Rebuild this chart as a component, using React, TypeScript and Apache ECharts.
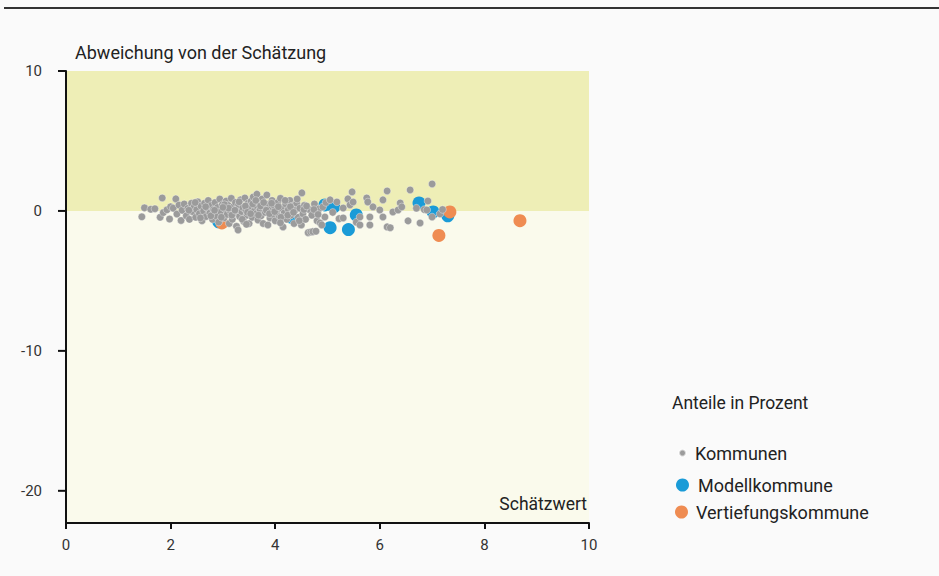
import React, { useEffect, useRef } from "react";
import * as echarts from "echarts";

const xTicks = [0, 2, 4, 6, 8, 10];
const yTicks = [-20, -10, 0, 10];
const yMin = -22.3;
const yMax = 10;
const xMin = 0;
const xMax = 10;

const kommunen: [number, number][] = [
  [1.45, -0.42], [1.5, 0.22], [1.62, 0.12], [1.7, 0.16], [1.8, -0.45], [1.84, 0.93], [1.86, -0.12], [1.93, 0.08], [1.98, -0.58], [2.0, 0.3],
  [2.05, 0.2], [2.1, 0.86], [2.12, -0.22], [2.16, 0.42], [2.2, -0.68], [2.22, 0.05], [2.26, 0.5], [2.3, -0.35], [2.33, 0.18], [2.36, -0.6], [2.4, 0.55], [2.42, -0.05], [2.45, 0.3], [2.48, -0.45], [2.5, 0.1],
  [2.52, 0.65], [2.55, -0.2], [2.58, 0.35], [2.6, -0.7], [2.63, 0.0], [2.65, 0.55], [2.68, -0.4], [2.7, 0.2], [2.72, 0.75], [2.75, -0.15], [2.78, 0.4], [2.8, -0.6], [2.82, 0.1], [2.85, 0.6], [2.87, -0.35], [2.9, 0.25], [2.92, -0.8], [2.94, 0.85], [2.96, -0.05], [2.99, 0.45],
  [3.02, -0.5], [3.04, 0.15], [3.06, 0.7], [3.08, -0.25], [3.1, 0.4], [3.12, -0.9], [3.14, 0.0], [3.16, 0.9], [3.18, -0.6], [3.2, 0.3], [3.22, -0.15], [3.24, 0.6], [3.26, -1.1], [3.28, 0.1], [3.29, -1.36], [3.3, 0.45], [3.32, -0.4], [3.34, 0.8], [3.36, -0.05], [3.38, 0.25], [3.4, -0.75], [3.42, 0.93], [3.44, 0.05], [3.46, -0.3], [3.48, 0.55],
  [3.5, -0.9], [3.52, 0.2], [3.54, 0.7], [3.56, -0.45], [3.58, 1.0], [3.6, 0.0], [3.62, 0.4], [3.64, -0.2], [3.65, 1.2], [3.67, -0.65], [3.69, 0.6], [3.71, 0.1], [3.73, -0.35], [3.75, 0.85], [3.77, -0.9], [3.79, 0.3], [3.81, -0.1], [3.84, 1.14], [3.86, -1.0], [3.88, 0.5], [3.9, -0.5], [3.92, 0.15], [3.94, 0.75], [3.96, -0.25], [3.98, 0.35],
  [4.0, -0.7], [4.03, 0.0], [4.05, 0.6], [4.08, -0.4], [4.1, 0.9], [4.12, 0.2], [4.15, -1.14], [4.17, -0.15], [4.2, 0.5], [4.22, -0.6], [4.25, 0.1], [4.28, 0.75], [4.3, -0.3], [4.33, 0.35], [4.36, -0.9], [4.38, 0.05], [4.41, 0.55], [4.44, -0.45], [4.47, 0.2], [4.5, -1.0], [4.51, 1.29], [4.53, -0.2], [4.56, 0.4], [4.58, -0.6],
  [4.63, -1.55], [4.68, -1.5], [4.72, -1.48], [4.78, -1.45], [4.65, 0.1], [4.7, -0.3], [4.75, 0.5], [4.8, -0.7], [4.84, 0.15], [4.86, -0.86], [4.89, -1.0], [4.91, 0.29], [4.95, -0.43], [4.97, 0.6],
  [5.05, 0.79], [5.1, -0.1], [5.18, 0.64], [5.22, -0.55], [5.3, 0.21], [5.3, -0.5], [5.39, 0.86], [5.43, 0.43], [5.47, 1.36], [5.49, 0.64], [5.55, -0.8], [5.62, -0.43], [5.62, -1.0],
  [5.75, 0.93], [5.77, 0.64], [5.81, -0.43], [5.81, -1.0], [5.87, 0.29], [6.0, 0.07], [6.06, 0.79], [6.06, -0.43], [6.14, 1.43], [6.14, -1.14], [6.2, -1.2], [6.25, -0.07], [6.35, 0.07], [6.39, 0.57], [6.42, 0.29], [6.54, -0.71], [6.58, 1.5],
  [6.7, 0.2], [6.77, -0.86], [6.85, 0.1], [6.9, 0.07], [6.92, 0.71], [7.0, 1.93], [7.0, -0.43], [7.15, -0.21], [7.2, 0.1],
  [2.35, 0.05], [2.47, 0.6], [2.57, -0.5], [2.67, 0.3], [2.77, -0.35], [2.84, 0.05], [2.97, -0.45], [3.03, 0.45], [3.11, 0.2], [3.17, -0.3],
  [3.23, 0.05], [3.31, 0.65], [3.37, -0.6], [3.43, 0.35], [3.47, -0.1], [3.53, -0.2], [3.57, 0.5], [3.63, 0.75], [3.68, -0.3], [3.72, 0.35],
  [3.78, 0.6], [3.83, 0.05], [3.89, -0.2], [3.93, 0.55], [3.99, -0.05], [4.06, 0.3], [4.11, -0.45], [4.19, 0.75], [4.24, -0.3], [4.29, 0.3],
  [4.35, -0.1], [4.42, 0.85], [4.46, -0.7], [4.55, 0.1], [4.6, 0.35], [4.74, 0.1], [4.82, -0.25], [4.1, -0.85], [3.45, -0.95], [3.0, 0.25],
];

const modellkommune: [number, number][] = [
  [2.92, -0.78], [4.3, -0.45], [4.95, 0.43], [5.12, 0.29], [5.05, -1.2], [5.4, -1.33], [5.55, -0.29], [6.75, 0.57], [7.02, -0.07], [7.3, -0.35],
];

const vertiefungskommune: [number, number][] = [
  [2.98, -0.86], [7.34, -0.07], [7.13, -1.75], [8.68, -0.7],
];

const FONT = "Roboto, 'Noto Sans', sans-serif";
const GRAY = "#9b9b9b";
const BLUE = "#1a9bd7";
const ORANGE = "#ef8c52";
const W = 939;
const H = 576;
const GRID = { left: 66, right: 350, top: 71, bottom: 53 };
const TICK_PX = 8;

export default function App() {
  const ref = useRef<HTMLDivElement>(null);
  useEffect(() => {
    if (!ref.current) return;
    const chart = echarts.init(ref.current, null, { renderer: "svg" });
    const plotH = H - GRID.top - GRID.bottom;
    // pixel position of a y value on the linear y axis of the grid
    const yPix = (v: number) => GRID.top + ((yMax - v) / (yMax - yMin)) * plotH;
    const yTickLines = yTicks.map((v) => ({
      type: "line",
      z: 100,
      shape: { x1: GRID.left - TICK_PX, y1: yPix(v), x2: GRID.left, y2: yPix(v) },
      style: { stroke: "#111", lineWidth: 2 },
    }));
    chart.setOption({
      animation: false,
      backgroundColor: "#fafafa",
      textStyle: { fontFamily: FONT },
      grid: { ...GRID, containLabel: false },
      xAxis: {
        type: "value",
        min: xMin,
        max: xMax,
        interval: 2,
        z: 10,
        splitLine: { show: false },
        axisLine: { show: true, onZero: false, lineStyle: { color: "#111", width: 2 } },
        axisTick: { show: true, length: 6, lineStyle: { color: "#111", width: 2 } },
        axisLabel: { color: "#333", fontSize: 15, margin: 14, fontFamily: FONT },
      },
      yAxis: {
        type: "value",
        min: yMin,
        max: yMax,
        z: 10,
        name: "Abweichung von der Schätzung",
        nameLocation: "end",
        nameGap: 10,
        nameTextStyle: { color: "#222", fontSize: 18, align: "left", verticalAlign: "bottom", padding: [0, 0, 0, 9], fontFamily: FONT },
        splitLine: { show: false },
        axisLine: { show: true, onZero: false, lineStyle: { color: "#111", width: 2 } },
        axisTick: { show: false },
        axisLabel: { color: "#333", fontSize: 15, margin: 24, customValues: yTicks, fontFamily: FONT },
      },
      legend: [
        {
          data: ["Kommunen"], orient: "vertical", left: 673, top: 439, icon: "circle",
          itemWidth: 7, itemHeight: 7, selectedMode: false,
          textStyle: { fontSize: 18, color: "#222", padding: [0, 0, 0, 4], fontFamily: FONT },
        },
        {
          data: ["Modellkommune"], orient: "vertical", left: 671, top: 471, icon: "circle",
          itemWidth: 13, itemHeight: 13, selectedMode: false,
          textStyle: { fontSize: 18, color: "#222", padding: [0, 0, 0, 4], fontFamily: FONT },
        },
        {
          data: ["Vertiefungskommune"], orient: "vertical", left: 670, top: 498, icon: "circle",
          itemWidth: 13, itemHeight: 13, selectedMode: false,
          textStyle: { fontSize: 18, color: "#222", padding: [0, 0, 0, 3], fontFamily: FONT },
        },
      ],
      graphic: [
        { type: "line", z: 100, shape: { x1: 4, y1: 8, x2: W, y2: 8 }, style: { stroke: "#333", lineWidth: 2 } },
        { type: "text", z: 100, left: 672, top: 394, style: { text: "Anteile in Prozent", fontSize: 17.5, fill: "#222", fontFamily: FONT } },
        { type: "text", z: 100, right: 352, top: 495, style: { text: "Schätzwert", fontSize: 17.5, fill: "#222", fontFamily: FONT } },
        ...yTickLines,
      ],
      series: [
        {
          name: "Bänder",
          type: "scatter",
          data: [],
          silent: true,
          z: 1,
          markArea: {
            silent: true,
            data: [
              [{ yAxis: 0, itemStyle: { color: "#eeeeb6" } }, { yAxis: yMax }],
              [{ yAxis: yMin, itemStyle: { color: "#fafaec" } }, { yAxis: 0 }],
            ],
          },
        },
        {
          name: "Modellkommune",
          type: "scatter",
          data: modellkommune,
          symbolSize: 13,
          itemStyle: { color: BLUE, opacity: 1 },
          z: 3,
        },
        {
          name: "Vertiefungskommune",
          type: "scatter",
          data: vertiefungskommune,
          symbolSize: 13,
          itemStyle: { color: ORANGE, opacity: 1 },
          z: 4,
        },
        {
          name: "Kommunen",
          type: "scatter",
          data: kommunen,
          symbolSize: 7.5,
          itemStyle: { color: GRAY, opacity: 1, borderColor: "rgba(255,255,255,0.6)", borderWidth: 0.6 },
          z: 5,
        },
      ],
    });
    return () => chart.dispose();
  }, []);
  return (
    <div
      ref={ref}
      style={{ position: "fixed", left: 0, top: 0, width: W, height: H, background: "#fafafa" }}
    />
  );
}
